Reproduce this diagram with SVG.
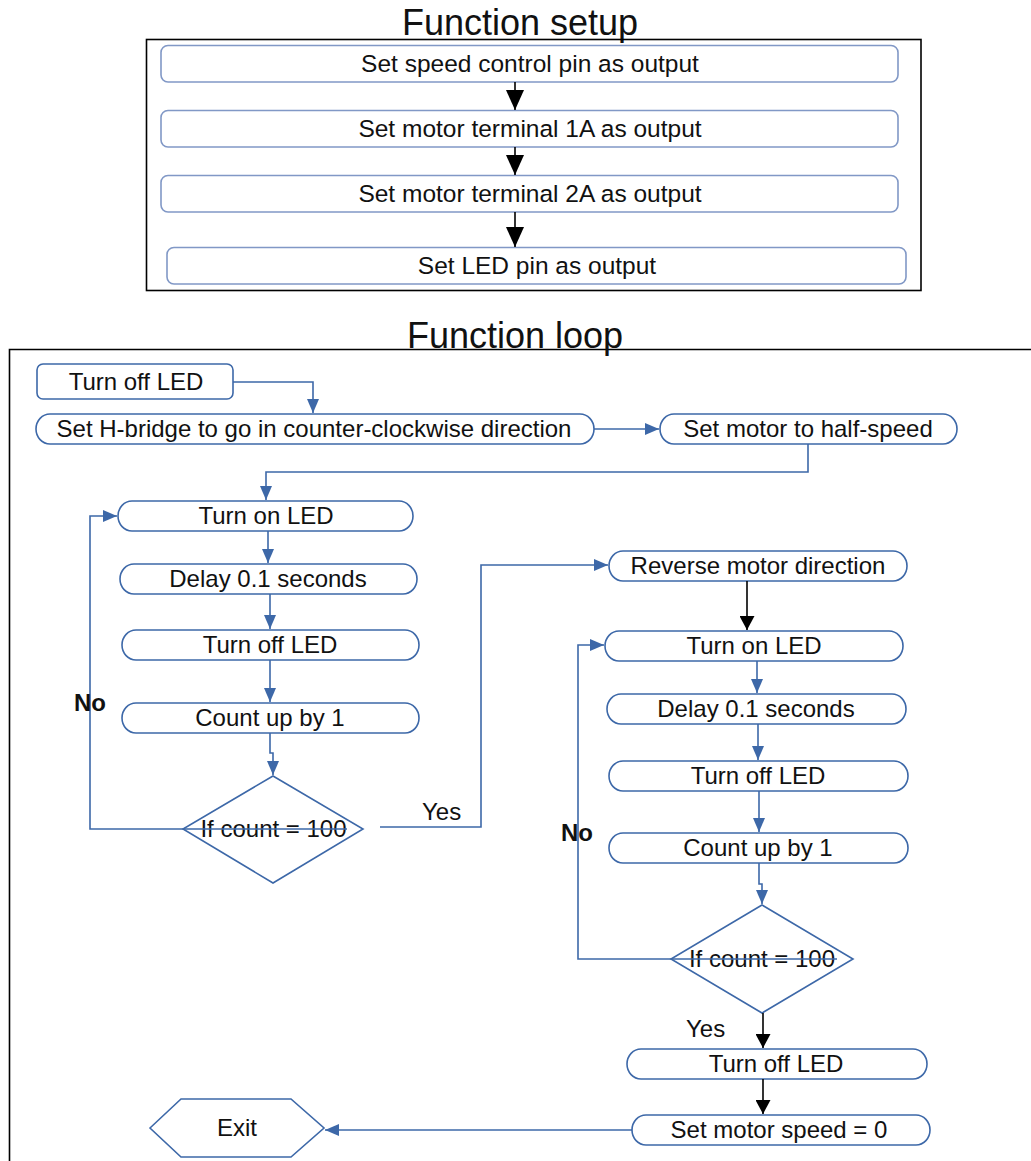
<svg xmlns="http://www.w3.org/2000/svg" width="1031" height="1161" viewBox="0 0 1031 1161">
<style>
text{font-family:"Liberation Sans",Arial,sans-serif;font-size:24px;fill:#111;text-anchor:middle}
.title{font-size:36px}
.st{font-size:24.5px}
.lbl{text-anchor:start}
.b{font-weight:bold}
.sbox{fill:#fff;stroke:#8198c6;stroke-width:1.6}
.node{fill:#fff;stroke:#3d68a8;stroke-width:1.6}
.con{fill:none;stroke:#3d68a8;stroke-width:1.6}
.conk{fill:none;stroke:#000;stroke-width:1.6}
</style>
<defs>
<marker id="ab" markerUnits="userSpaceOnUse" markerWidth="14" markerHeight="12" refX="14" refY="6" orient="auto"><path d="M0,0 L14,6 L0,12 z" fill="#3d68a8"/></marker>
<marker id="ak" markerUnits="userSpaceOnUse" markerWidth="15" markerHeight="15" refX="14" refY="7.5" orient="auto"><path d="M0,0 L14,7.5 L0,15 z" fill="#000"/></marker>
<marker id="akL" markerUnits="userSpaceOnUse" markerWidth="20" markerHeight="18" refX="20" refY="9" orient="auto"><path d="M0,0 L20,9 L0,18 z" fill="#000"/></marker>
</defs>
<rect width="1031" height="1161" fill="#fff"/>

<g id="setup">
<text class="title" x="520" y="35">Function setup</text>
<rect x="146.5" y="39.5" width="774.5" height="251" fill="none" stroke="#000" stroke-width="1.6"/>
<g id="s1"><rect class="sbox" x="161" y="45.5" width="737" height="36.5" rx="7"/><text class="st" x="530" y="72">Set speed control pin as output</text></g>
<g id="s2"><rect class="sbox" x="161" y="110.5" width="737" height="36.5" rx="7"/><text class="st" x="530" y="137">Set motor terminal 1A as output</text></g>
<g id="s3"><rect class="sbox" x="161" y="175.5" width="737" height="36.5" rx="7"/><text class="st" x="530" y="202">Set motor terminal 2A as output</text></g>
<g id="s4"><rect class="sbox" x="167" y="247.5" width="739" height="36.5" rx="7"/><text class="st" x="537" y="274">Set LED pin as output</text></g>
</g>

<g id="loopframe">
<path d="M1031,349.5 H9.5 V1161" fill="none" stroke="#000" stroke-width="1.6"/>
<text class="title" x="515" y="348">Function loop</text>
</g>

<g id="n_off0"><rect class="node" x="37" y="364" width="196" height="35" rx="6"/><text x="136" y="390">Turn off LED</text></g>
<g id="n_hbridge"><rect class="node" x="36" y="414" width="558" height="30" rx="14" ry="15"/><text x="314" y="437">Set H-bridge to go in counter-clockwise direction</text></g>
<g id="n_half"><rect class="node" x="660" y="414" width="297" height="30" rx="14" ry="15"/><text x="808" y="437">Set motor to half-speed</text></g>
<g id="n_on1"><rect class="node" x="118" y="501" width="295" height="30" rx="14" ry="15"/><text x="266" y="524">Turn on LED</text></g>
<g id="n_delay1"><rect class="node" x="120" y="564" width="297" height="30" rx="14" ry="15"/><text x="268" y="587">Delay 0.1 seconds</text></g>
<g id="n_off1"><rect class="node" x="122" y="630" width="297" height="30" rx="14" ry="15"/><text x="270" y="653">Turn off LED</text></g>
<g id="n_count1"><rect class="node" x="122" y="703" width="297" height="30" rx="14" ry="15"/><text x="270" y="726">Count up by 1</text></g>
<g id="d1"><path class="node" d="M273,776 L363,829 L273,883 L183,829 z"/><text x="273.5" y="837">If count = 100</text></g>

<g id="n_rev"><rect class="node" x="609" y="551" width="298" height="30" rx="14" ry="15"/><text x="758" y="574">Reverse motor direction</text></g>
<g id="n_on2"><rect class="node" x="605" y="631" width="298" height="30" rx="14" ry="15"/><text x="754" y="654">Turn on LED</text></g>
<g id="n_delay2"><rect class="node" x="607" y="694" width="299" height="30" rx="14" ry="15"/><text x="756" y="717">Delay 0.1 seconds</text></g>
<g id="n_off2"><rect class="node" x="609" y="761" width="299" height="30" rx="14" ry="15"/><text x="758" y="784">Turn off LED</text></g>
<g id="n_count2"><rect class="node" x="609" y="833" width="299" height="30" rx="14" ry="15"/><text x="758" y="856">Count up by 1</text></g>
<g id="d2"><path class="node" d="M762,905 L853,959 L762,1013 L671,959 z"/><text x="762" y="967">If count = 100</text></g>
<g id="n_off3"><rect class="node" x="627" y="1049" width="300" height="30" rx="14" ry="15"/><text x="776" y="1072">Turn off LED</text></g>
<g id="n_speed"><rect class="node" x="632" y="1115" width="298" height="30" rx="14" ry="15"/><text x="779" y="1138">Set motor speed = 0</text></g>
<g id="n_exit"><path class="node" d="M150,1128 L181,1099 L291,1099 L324,1128 L291,1157 L181,1157 z"/><text x="237" y="1136">Exit</text></g>

<g id="connectors">
<path class="conk" d="M515,82 V110" marker-end="url(#akL)"/>
<path class="conk" d="M515,147 V175" marker-end="url(#akL)"/>
<path class="conk" d="M515,212 V247" marker-end="url(#akL)"/>

<path class="con" d="M233,382 H313 V413" marker-end="url(#ab)"/>
<path class="con" d="M594,429 H659" marker-end="url(#ab)"/>
<path class="con" d="M808,444 V472 H266 V500" marker-end="url(#ab)"/>
<path class="con" d="M268,531 V563" marker-end="url(#ab)"/>
<path class="con" d="M270,594 V629" marker-end="url(#ab)"/>
<path class="con" d="M270,660 V702" marker-end="url(#ab)"/>
<path class="con" d="M270,733 V753 H273 V775" marker-end="url(#ab)"/>
<path class="con" d="M347,829 H90 V516 H117" marker-end="url(#ab)"/>
<path class="con" d="M380,827 H481 V565 H608" marker-end="url(#ab)"/>
<path class="conk" d="M747,581 V630" marker-end="url(#ak)"/>
<path class="con" d="M757,661 V693" marker-end="url(#ab)"/>
<path class="con" d="M758,724 V760" marker-end="url(#ab)"/>
<path class="con" d="M759,791 V832" marker-end="url(#ab)"/>
<path class="con" d="M759,863 V884 H762 V904" marker-end="url(#ab)"/>
<path class="con" d="M837,959 H578 V645 H604" marker-end="url(#ab)"/>
<path class="conk" d="M763,1013 V1048" marker-end="url(#ak)"/>
<path class="conk" d="M763,1079 V1114" marker-end="url(#ak)"/>
<path class="con" d="M632,1130 H325" marker-end="url(#ab)"/>

<text class="lbl b" x="74" y="711">No</text>
<text class="lbl" x="422" y="820">Yes</text>
<text class="lbl b" x="561" y="841">No</text>
<text class="lbl" x="686" y="1037">Yes</text>
</g>
</svg>
